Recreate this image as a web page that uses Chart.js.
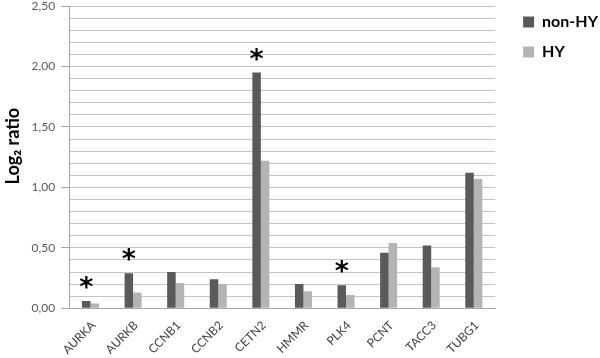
<!DOCTYPE html>
<html>
<head>
<meta charset="utf-8">
<script src="https://cdn.jsdelivr.net/npm/chart.js@4/dist/chart.umd.min.js"></script>
<style>
  html, body { margin: 0; padding: 0; background: #fff; }
  #wrap { width: 600px; height: 358px; }
</style>
</head>
<body>
<div id="wrap"><canvas id="chart" width="600" height="358"></canvas></div>
<script>
// data
const genes = ['AURKA', 'AURKB', 'CCNB1', 'CCNB2', 'CETN2', 'HMMR', 'PLK4', 'PCNT', 'TACC3', 'TUBG1'];
const nonHY = [0.06, 0.29, 0.30, 0.24, 1.95, 0.20, 0.19, 0.46, 0.52, 1.12];
const hy    = [0.04, 0.13, 0.21, 0.20, 1.22, 0.14, 0.11, 0.54, 0.34, 1.07];
const significant = [true, true, false, false, true, false, true, false, false, false];

const darkGrey = '#5a5a5a';
const lightGrey = '#b4b4b4';

// asterisks above the non-HY bars
const starPlugin = {
    id: 'stars',
    afterDatasetsDraw(chart) {
        const meta = chart.getDatasetMeta(0);
        const ctx = chart.ctx;
        ctx.save();
        ctx.fillStyle = '#000';
        ctx.font = 'bold 27px "DejaVu Sans"';
        ctx.textAlign = 'center';
        ctx.textBaseline = 'alphabetic';
        meta.data.forEach((bar, i) => {
            if (!significant[i]) return;
            ctx.fillText('*', bar.x, bar.y - 5);
        });
        ctx.restore();
    }
};

// title pushed up a little with no-break spaces, as in the figure
const yTitle = '\u00A0'.repeat(5) + 'Log₂ ratio';

new Chart(document.getElementById('chart'), {
    type: 'bar',
    data: {
        labels: genes,
        datasets: [
            { label: 'non-HY', data: nonHY, backgroundColor: darkGrey },
            { label: 'HY', data: hy, backgroundColor: lightGrey }
        ]
    },
    options: {
        responsive: false,
        animation: false,
        datasets: {
            bar: { categoryPercentage: 0.4, barPercentage: 1.0 }
        },
        layout: { padding: { top: 0, right: -8, left: 2, bottom: -3 } },
        scales: {
            x: {
                grid: { display: false, drawTicks: false },
                border: { color: '#a6a6a6' },
                ticks: {
                    maxRotation: 45,
                    minRotation: 45,
                    padding: 10,
                    labelOffset: 3,
                    color: '#404040',
                    font: { family: 'Lato', size: 12 }
                },
                afterFit: (scale) => { scale.height = scale.height - 6; }
            },
            y: {
                min: 0,
                max: 2.5,
                border: { color: '#a6a6a6' },
                grid: {
                    color: '#c4c4c4',
                    tickLength: 8,
                    tickColor: (c) => (Math.round(c.tick.value * 10) % 5 === 0 ? '#a6a6a6' : 'rgba(0,0,0,0)')
                },
                ticks: {
                    stepSize: 0.1,
                    autoSkip: false,
                    padding: 6,
                    color: '#595959',
                    font: { family: 'Lato', size: 12 },
                    callback: (v) => {
                        const t = Math.round(v * 10);
                        return t % 5 === 0 ? (t / 10).toFixed(2).replace('.', ',') : '';
                    }
                },
                title: {
                    display: true,
                    text: yTitle,
                    color: '#000',
                    font: { family: 'Lato', size: 18, weight: 'bold' },
                    padding: { top: 0, bottom: 2 }
                },
                afterFit: (scale) => { scale.paddingTop = 6; }
            },
            // empty spacer between the plot and the legend
            gap: {
                type: 'linear',
                position: 'right',
                grid: { display: false },
                border: { display: false },
                ticks: { display: false },
                afterFit: (scale) => { scale.width = 14; }
            }
        },
        plugins: {
            legend: {
                position: 'right',
                align: 'start',
                labels: {
                    boxWidth: 11,
                    boxHeight: 11,
                    padding: 14,
                    color: '#000',
                    font: { family: 'Lato', size: 16, weight: 'bold' }
                }
            },
            tooltip: { enabled: false }
        }
    },
    plugins: [starPlugin]
});
</script>
</body>
</html>
